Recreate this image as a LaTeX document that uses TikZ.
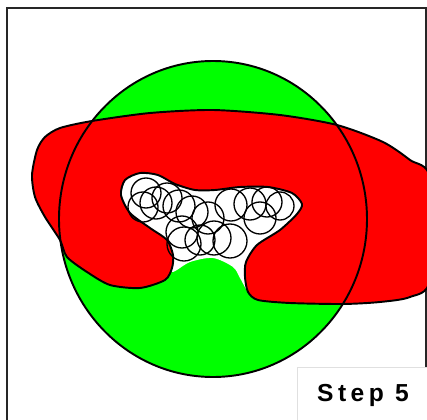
\documentclass[tikz,border=0pt]{standalone}
\usepackage{fontspec}
\setmainfont{Liberation Sans}
\begin{document}
\begin{tikzpicture}[x=0.02cm, y=-0.02cm,
    edge/.style={draw=black, line width=1.1pt},
    probe/.style={draw=black, line width=0.75pt},
    steptext/.style={font=\bfseries\fontsize{14}{16}\selectfont\addfontfeatures{LetterSpace=18}}]
    \useasboundingbox (0,0) rectangle (427,420);
    \fill[white] (0,0) rectangle (427,420);
    \draw[line width=1pt, black!85] (7,8) rectangle (426,440);

    % green disc
    \fill[green] (213,219) ellipse[x radius=154, y radius=158];

    % white cavity with green bump below
    \fill[white] plot[smooth cycle, tension=0.5] coordinates {
        (140,173) (158,175) (175,184) (195,190) (215,190) (240,187) (268,187)
        (292,193) (302,204) (297,214) (280,230) (257,245) (246,262) (245,277)
        (248,292) (240,278) (233,267) (213,258) (190,262) (172,272)
        (173,255) (167,240) (150,228) (130,213) (121,195) (125,180)};

    % red region
    \filldraw[red, edge] plot[smooth cycle, tension=0.45] coordinates {
        (60,128) (92,121) (150,113) (213,110) (280,115) (337,125) (383,142)
        (410,160) (430,178) (430,280) (410,297) (380,302) (343,304) (290,303)
        (258,300) (248,292) (245,277) (246,262) (257,245) (280,230) (297,214)
        (302,204) (292,193) (268,187) (240,187) (215,190) (195,190) (175,184)
        (158,175) (140,173) (125,180) (121,195) (130,213) (150,228) (167,240)
        (173,255) (172,268) (165,280) (140,288) (110,285) (87,272) (67,257)
        (60,240) (45,217) (35,197) (32,175) (37,150) (45,137)};

    % disc outline
    \draw[edge] (213,219) ellipse[x radius=154, y radius=158];

    % small circles
    \foreach \cx/\cy/\r in {146/193/15, 143/207/15, 156/203/16, 167/198/15,
        179/206/16, 192/212/16, 182/232/16, 208/218/16, 214/238/17,
        231/205/16, 250/204/16, 267/202/15, 260/218/16, 230/241/17,
        184/244/17, 200/240/15, 280/206/14}
        \draw[probe] (\cx,\cy) circle[radius=\r];

    % label box
    \draw[black!12, fill=white] (297,367) rectangle (440,440);
    \node[steptext] (steplabel) at (363,395) {Step 5};
\end{tikzpicture}
\end{document}
